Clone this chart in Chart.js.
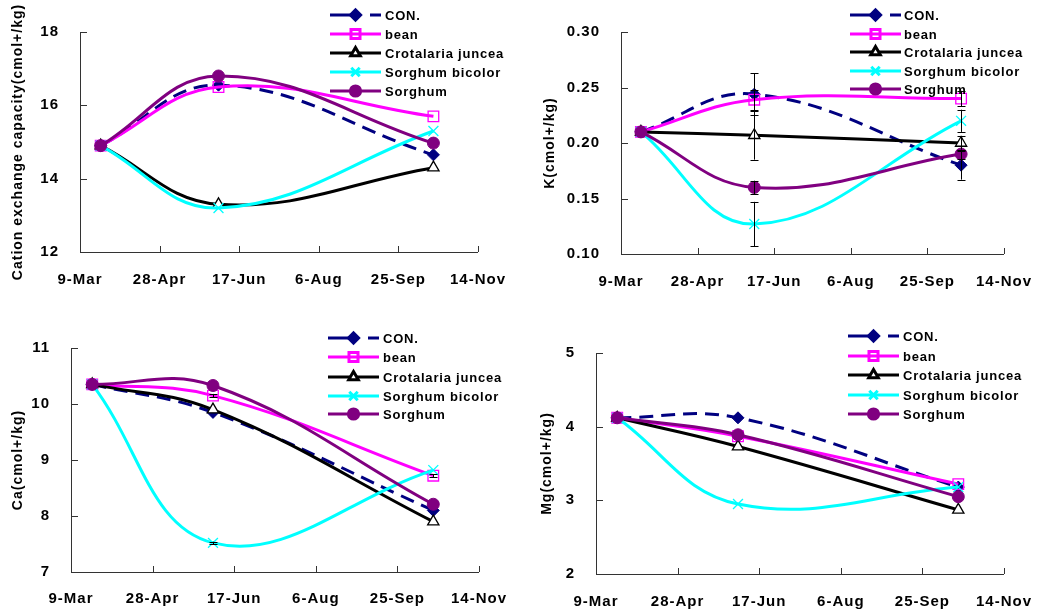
<!DOCTYPE html>
<html><head><meta charset="utf-8">
<script src="https://cdn.jsdelivr.net/npm/chart.js@4.4.1/dist/chart.umd.min.js"></script>
<style>
html,body{margin:0;padding:0;background:#fff;width:1051px;height:611px;overflow:hidden;position:relative;}
canvas{position:absolute;}
</style></head><body>
<canvas id="c1" width="525" height="300" style="left:0;top:0"></canvas>
<canvas id="c2" width="526" height="300" style="left:525px;top:0"></canvas>
<canvas id="c3" width="525" height="311" style="left:0;top:300px"></canvas>
<canvas id="c4" width="526" height="311" style="left:525px;top:300px"></canvas>
<script>
// ---- data ----
const tickDays = [0, 50, 100, 150, 200, 250];
const tickLabels = ['9-Mar', '28-Apr', '17-Jun', '6-Aug', '25-Sep', '14-Nov'];
const sampleDays = [13, 87, 222];
const seriesNames = ['CON.', 'bean', 'Crotalaria juncea', 'Sorghum bicolor', 'Sorghum'];

const cecCON = [14.9, 16.55, 14.65];
const cecBean = [14.9, 16.5, 15.7];
const cecCrotalaria = [14.9, 13.3, 14.3];
const cecBicolor = [14.9, 13.2, 15.3];
const cecSorghum = [14.9, 16.8, 14.97];

const kCON = [0.21, 0.244, 0.18];
const kBean = [0.21, 0.239, 0.24];
const kCrotalaria = [0.21, 0.207, 0.20];
const kBicolor = [0.21, 0.127, 0.22];
const kSorghum = [0.21, 0.16, 0.19];
const kCONErr = [0, 0.019, 0.013];
const kBeanErr = [0, 0.009, 0.007];
const kCrotalariaErr = [0, 0.022, 0.006];
const kBicolorErr = [0, 0.02, 0.01];
const kSorghumErr = [0, 0.006, 0.004];

const caCON = [10.35, 9.85, 8.1];
const caBean = [10.35, 10.15, 8.72];
const caCrotalaria = [10.35, 9.9, 7.9];
const caBicolor = [10.35, 7.52, 8.82];
const caSorghum = [10.35, 10.33, 8.21];
const caBeanErr = [0, 0.03, 0.03];
const caBicolorErr = [0, 0.02, 0];

const mgCON = [4.12, 4.12, 3.18];
const mgBean = [4.12, 3.87, 3.22];
const mgCrotalaria = [4.12, 3.73, 2.87];
const mgBicolor = [4.12, 2.95, 3.18];
const mgSorghum = [4.12, 3.89, 3.05];

// ---- styles ----
const FONT = '"Liberation Sans", Arial, sans-serif';
Chart.defaults.font.family = FONT;
Chart.defaults.color = '#000';
const seriesStyles = [
  {color:'#000080', dash:[14,8], pointStyle:'rectRot', radius:6, bg:'#000080', bw:1},
  {color:'#FF00FF', dash:[], pointStyle:'rect', radius:7.5, bg:'rgba(0,0,0,0)', bw:1.3},
  {color:'#000000', dash:[], pointStyle:'triangle', radius:6.5, bg:'#ffffff', bw:1.3},
  {color:'#00FFFF', dash:[], pointStyle:'crossRot', radius:7, bg:'#00FFFF', bw:1.3},
  {color:'#800080', dash:[], pointStyle:'circle', radius:6, bg:'#800080', bw:1}
];

function toPoints(vals){ return vals.map((v,i)=>({x:sampleDays[i], y:v})); }

Chart.register({
  id:'spacing',
  beforeUpdate(c){ c.ctx.letterSpacing='1px'; },
  beforeLayout(c){ c.ctx.letterSpacing='1px'; },
  beforeDraw(c){ c.ctx.letterSpacing='1px'; }
});

const tickMarks = {
  id:'tickMarks',
  afterDraw(chart){
    const ctx=chart.ctx, xs=chart.scales.x, ys=chart.scales.y, a=chart.chartArea;
    ctx.save(); ctx.strokeStyle='#333'; ctx.lineWidth=1;
    ctx.beginPath();
    xs.ticks.forEach(t=>{ if(t.value===xs.min) return; const px=Math.round(xs.getPixelForValue(t.value))+0.5; ctx.moveTo(px,a.bottom); ctx.lineTo(px,a.bottom-6); });
    ys.ticks.forEach(t=>{ if(t.value===ys.min) return; const py=Math.round(ys.getPixelForValue(t.value))+0.5; ctx.moveTo(a.left,py); ctx.lineTo(a.left+7,py); });
    ctx.stroke(); ctx.restore();
  }
};

const errorBars = {
  id:'errorBars',
  afterDatasetsDraw(chart){
    const ctx=chart.ctx, ys=chart.scales.y;
    ctx.save(); ctx.strokeStyle='#000'; ctx.lineWidth=1;
    chart.data.datasets.forEach((ds,i)=>{
      if(!ds.errors) return;
      const meta=chart.getDatasetMeta(i);
      ds.errors.forEach((e,j)=>{
        if(!e) return;
        const el=meta.data[j]; const x=Math.round(el.x)+0.5;
        const v=ds.data[j].y;
        const y1=ys.getPixelForValue(v+e), y2=ys.getPixelForValue(v-e);
        ctx.beginPath();
        ctx.moveTo(x,y1); ctx.lineTo(x,y2);
        ctx.moveTo(x-4,Math.round(y1)+0.5); ctx.lineTo(x+4,Math.round(y1)+0.5);
        ctx.moveTo(x-4,Math.round(y2)+0.5); ctx.lineTo(x+4,Math.round(y2)+0.5);
        ctx.stroke();
      });
    });
    ctx.restore();
  }
};

const boxLegend = {
  id:'boxLegend',
  afterDraw(chart, args, opts){
    const ctx=chart.ctx;
    ctx.save();
    chart.data.datasets.forEach((ds,i)=>{
      const y=opts.rows[i];
      ctx.strokeStyle=ds.borderColor; ctx.lineWidth=3;
      ctx.setLineDash(i===0?[24,16]:[]);
      ctx.beginPath(); ctx.moveTo(opts.x0,y); ctx.lineTo(opts.x1,y); ctx.stroke();
      ctx.setLineDash([]);
      ctx.fillStyle=ds.pointBackgroundColor; ctx.strokeStyle=ds.borderColor;
      Chart.helpers.drawPoint(ctx,{pointStyle:ds.pointStyle,radius:ds.pointRadius*0.85,rotation:0,borderWidth:ds.pointBorderWidth},(opts.x0+opts.x1)/2,y);
      ctx.letterSpacing='0.8px';
      ctx.font='bold 13px '+FONT; ctx.fillStyle='#000'; ctx.textBaseline='middle'; ctx.textAlign='left';
      ctx.fillText(ds.label, opts.textX, y+1);
    });
    ctx.restore();
  }
};

function makeChart(id, seriesVals, seriesErrs, cfg){
  const datasets = seriesVals.map((vals,i)=>{
    const s=seriesStyles[i];
    return {
      label: seriesNames[i], data: toPoints(vals), errors: seriesErrs ? seriesErrs[i] : null,
      borderColor:s.color, borderWidth:3, borderDash:s.dash, tension:0.4,
      pointStyle:s.pointStyle, pointRadius:s.radius, pointBackgroundColor:s.bg,
      pointBorderColor:s.color, pointBorderWidth:s.bw, fill:false, order: 4-i
    };
  });
  return new Chart(document.getElementById(id), {
    type:'line',
    data:{datasets},
    options:{
      responsive:false, animation:false, devicePixelRatio:1,
      layout:{padding:{left:0, top:cfg.top, right:cfg.right, bottom:0}},
      plugins:{legend:{display:false}, tooltip:{enabled:false}, boxLegend:cfg.legend},
      scales:{
        x:{type:'linear', min:0, max:250,
           afterBuildTicks(sc){ sc.ticks = tickDays.map(v=>({value:v})); },
           afterFit(sc){ sc.height = cfg.xH; },
           grid:{display:false, drawTicks:false},
           border:{display:true, color:'#333', width:1},
           ticks:{padding:cfg.xPad, maxRotation:0, autoSkip:false, font:{size:15, weight:'bold'},
                  callback:(v)=>{ const k=tickDays.indexOf(v); return k>=0?tickLabels[k]:''; }}
        },
        y:{type:'linear', min:cfg.yMin, max:cfg.yMax,
           afterFit(sc){ sc.width = cfg.yW; },
           grid:{display:false, drawTicks:false},
           border:{display:true, color:'#333', width:1},
           ticks:{stepSize:cfg.step, padding:21, font:{size:15, weight:'bold'},
                  callback:(v)=> cfg.dec ? Number(v).toFixed(cfg.dec) : String(v)},
           title:{display:true, text:cfg.title, font:{size:14, weight:'bold'}, padding:{top:cfg.tPad, bottom:0}}
        }
      }
    },
    plugins:[errorBars, tickMarks, boxLegend]
  });
}

makeChart('c1', [cecCON, cecBean, cecCrotalaria, cecBicolor, cecSorghum], null,
  {top:32, right:33, xH:48, yW:80, xPad:19, yMin:12, yMax:18, step:2, dec:0, tPad:10,
   title:'Cation exchange capacity(cmol+/kg)',
   legend:{x0:330, x1:381, textX:385, rows:[15,34,53,72,91]}});

makeChart('c2', [kCON, kBean, kCrotalaria, kBicolor, kSorghum],
  [kCONErr, kBeanErr, kCrotalariaErr, kBicolorErr, kSorghumErr],
  {top:32, right:43, xH:46, yW:96, xPad:19, yMin:0.10, yMax:0.30, step:0.05, dec:2, tPad:17,
   title:'K(cmol+/kg)',
   legend:{x0:325, x1:376, textX:379, rows:[15,34,52,71,89]}});

makeChart('c3', [caCON, caBean, caCrotalaria, caBicolor, caSorghum],
  [null, caBeanErr, null, caBicolorErr, null],
  {top:48, right:38, xH:39, yW:71, xPad:18, yMin:7, yMax:11, step:1, dec:0, tPad:10,
   title:'Ca(cmol+/kg)',
   legend:{x0:328, x1:379, textX:383, rows:[38,57,77,96,114]}});

makeChart('c4', [mgCON, mgBean, mgCrotalaria, mgBicolor, mgSorghum], null,
  {top:53, right:38, xH:37, yW:71, xPad:19, yMin:2, yMax:5, step:1, dec:0, tPad:14,
   title:'Mg(cmol+/kg)',
   legend:{x0:323, x1:374, textX:378, rows:[36,56,75,95,114]}});
</script>
</body></html>
